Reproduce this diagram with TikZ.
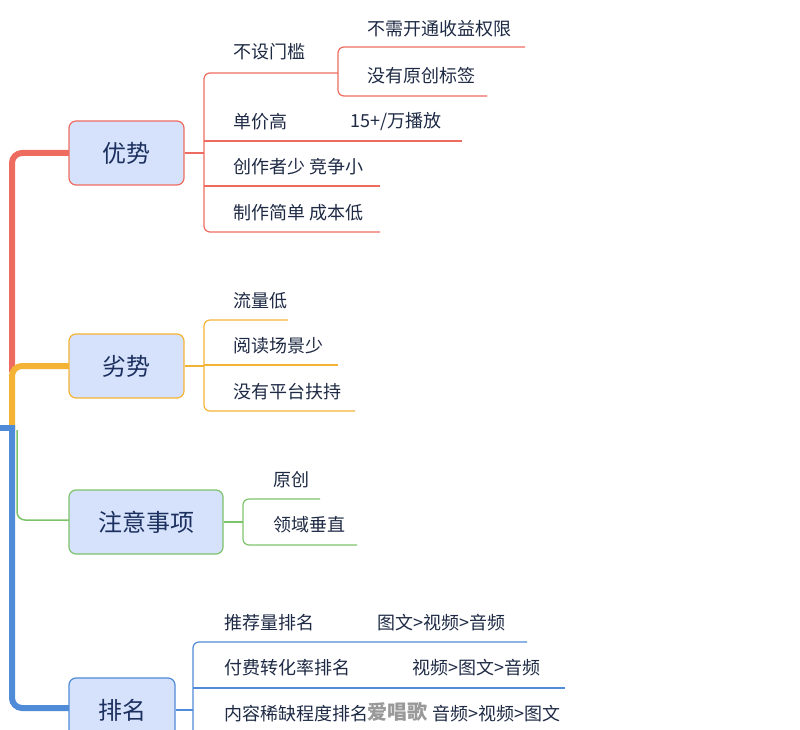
\documentclass[tikz,border=0pt]{standalone}
\usepackage{fontspec}
\setmainfont{Noto Sans CJK SC}
\begin{document}
\begin{tikzpicture}[x=1pt,y=-1pt,
 txt/.style={anchor=west,inner sep=0pt,font=\fontsize{18}{18}\selectfont,text=tx},
 box/.style={draw,rounded corners=7pt,fill=bf,line width=1.2pt,inner sep=0pt,font=\fontsize{24}{24}\selectfont,text=tb,minimum height=64pt},
 ln/.style={line width=1.2pt,rounded corners=6pt}]
\definecolor{cr}{HTML}{EE6C5F}\definecolor{co}{HTML}{F5B335}\definecolor{cg}{HTML}{7CC36A}\definecolor{cb}{HTML}{4F8BD6}
\definecolor{bf}{HTML}{D6E2FB}\definecolor{tx}{HTML}{1E2A44}\definecolor{tb}{HTML}{1C3060}
\useasboundingbox (0,0) rectangle (800,730);
% trunk
\draw[cr,line width=6pt,rounded corners=10pt] (12,372) -- (12,153) -- (69,153);
\draw[co,line width=6pt,rounded corners=10pt] (12,430) -- (12,366) -- (69,366);
\draw[cg,line width=1.5pt,rounded corners=8pt] (17,430) -- (17,520) -- (69,520);
\draw[cb,line width=6pt] (0,428) -- (12,428);
\draw[cb,line width=6pt,rounded corners=10pt] (12,425) -- (12,708) -- (69,708);
% boxes
\node[box,draw=cr,minimum width=115pt] (a) at (126.5,153) {优势};
\node[box,draw=co,minimum width=115pt] (b) at (126.5,366) {劣势};
\node[box,draw=cg,minimum width=154pt] (c) at (146,522) {注意事项};
\node[box,draw=cb,minimum width=106pt] (d) at (122,710) {排名};
% 优势
\draw[cr,ln] (a.east) -- (204,153);
\draw[cr,ln] (338,73) -- (204,73) -- (204,232) -- (380,232);
\draw[cr,ln] (204,141) -- (462,141);
\draw[cr,ln] (204,186) -- (380,186);
\draw[cr,ln] (525,47) -- (338,47) -- (338,96) -- (487,96);
\node[txt] (a1) at (233,52) {不设门槛};
\node[txt] (a11) at (367,29) {不需开通收益权限};
\node[txt] (a12) at (367,76) {没有原创标签};
\node[txt] (a2) at (233,122) {单价高};
\node[txt] (a2b) at (350,122) {15+/万播放};
\node[txt] (a3) at (233,167) {创作者少 竞争小};
\node[txt] (a4) at (233,213) {制作简单 成本低};
% 劣势
\draw[co,ln] (b.east) -- (204,366);
\draw[co,ln] (288,320) -- (204,320) -- (204,411) -- (355,411);
\draw[co,ln] (204,365) -- (338,365);
\node[txt] (b1) at (233,301) {流量低};
\node[txt] (b2) at (233,346) {阅读场景少};
\node[txt] (b3) at (233,392) {没有平台扶持};
% 注意事项
\draw[cg,ln] (c.east) -- (243,522);
\draw[cg,ln] (320,499) -- (243,499) -- (243,545) -- (357,545);
\node[txt] (c1) at (273,480) {原创};
\node[txt] (c2) at (273,525) {领域垂直};
% 排名
\draw[cb,ln] (d.east) -- (193,710);
\draw[cb,ln] (527,642) -- (193,642) -- (193,740);
\draw[cb,ln] (565,688) -- (193,688);
\node[txt] (d1) at (224,623) {推荐量排名};
\node[txt] (d1b) at (377,623) {图文>视频>音频};
\node[txt] (d2) at (224,668) {付费转化率排名};
\node[txt] (d2b) at (412,668) {视频>图文>音频};
\node[txt] (d3) at (224,714) {内容稀缺程度排名};
\node[txt] (d3b) at (432,714) {音频>视频>图文};
\node[txt,text=black!40,font=\fontsize{20}{20}\selectfont\bfseries] (w) at (367,712) {爱唱歌};
\end{tikzpicture}
\end{document}
